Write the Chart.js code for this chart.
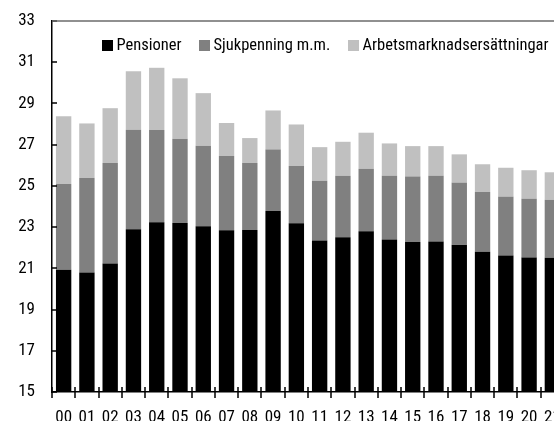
<!DOCTYPE html>
<html>
<head>
<meta charset="utf-8">
<script src="https://cdn.jsdelivr.net/npm/chart.js@4/dist/chart.umd.min.js"></script>
<style>
  html, body { margin: 0; padding: 0; background: #fff; overflow: hidden; }
  #wrap { width: 554px; height: 421px; overflow: hidden; }
</style>
</head>
<body>
<div id="wrap"><canvas id="chart" width="570" height="421"></canvas></div>
<script>
const years = ["00", "01", "02", "03", "04", "05", "06", "07", "08", "09", "10",
  "11", "12", "13", "14", "15", "16", "17", "18", "19", "20", "21"];

// stacked segments
const pensioner = [20.93, 20.8, 21.23, 22.9, 23.24, 23.2, 23.04, 22.85, 22.86, 23.78, 23.19,
  22.35, 22.51, 22.8, 22.4, 22.28, 22.3, 22.15, 21.8, 21.62, 21.52, 21.51];
const sjukpenning = [4.16, 4.6, 4.88, 4.82, 4.47, 4.09, 3.91, 3.6, 3.25, 2.99, 2.77,
  2.9, 2.98, 3.03, 3.09, 3.17, 3.19, 3.01, 2.9, 2.86, 2.86, 2.82];
const arbetsmarknad = [3.29, 2.63, 2.66, 2.84, 3.02, 2.93, 2.55, 1.6, 1.21, 1.89, 2.02,
  1.63, 1.65, 1.75, 1.57, 1.48, 1.44, 1.37, 1.35, 1.4, 1.38, 1.33];

const yTicks = [15, 17, 19, 21, 23, 25, 27, 29, 31, 33];

const font = "'Roboto Condensed', 'DejaVu Sans Condensed', sans-serif";

// inward ticks on y, crossing ticks on x, top frame line
const axisMarks = {
  id: "axisMarks",
  afterDraw(chart) {
    const { ctx, chartArea: a, scales: { x, y } } = chart;
    ctx.save();
    ctx.strokeStyle = "#000";
    ctx.lineWidth = 1.5;
    ctx.beginPath();
    yTicks.forEach(v => {
      const py = Math.round(y.getPixelForValue(v));
      ctx.moveTo(a.left, py);
      ctx.lineTo(a.left + 5, py);
    });
    for (let i = 0; i <= years.length; i++) {
      const px = Math.round(x.getPixelForValue(i - 0.5));
      ctx.moveTo(px, a.bottom - 5);
      ctx.lineTo(px, a.bottom + 6);
    }
    ctx.stroke();
    ctx.strokeStyle = "#6b6b6b";
    ctx.lineWidth = 1.7;
    ctx.beginPath();
    ctx.moveTo(a.left, a.top);
    ctx.lineTo(a.right, a.top);
    ctx.stroke();
    ctx.restore();
  }
};

// legend inside the plot, one row near the top
const legendStart = [102, 199, 348];
const insideLegend = {
  id: "insideLegend",
  afterDraw(chart) {
    const { ctx } = chart;
    ctx.save();
    ctx.font = "16.5px " + font;
    ctx.textBaseline = "middle";
    chart.data.datasets.forEach((ds, i) => {
      const bx = legendStart[i];
      ctx.fillStyle = ds.backgroundColor;
      ctx.fillRect(bx, 40, 11, 11);
      ctx.fillStyle = "#000";
      ctx.fillText(ds.label, bx + 14.5, 46);
    });
    ctx.restore();
  }
};

new Chart(document.getElementById("chart"), {
  type: "bar",
  data: {
    labels: years,
    datasets: [
      { label: "Pensioner", data: pensioner, backgroundColor: "#000000" },
      { label: "Sjukpenning m.m.", data: sjukpenning, backgroundColor: "#808080" },
      { label: "Arbetsmarknadsersättningar", data: arbetsmarknad, backgroundColor: "#c0c0c0" }
    ]
  },
  options: {
    responsive: false,
    animation: false,
    layout: { padding: { top: 21, right: 6, left: 0, bottom: 0 } },
    datasets: { bar: { categoryPercentage: 1, barPercentage: 0.66, borderWidth: 0 } },
    plugins: {
      legend: { display: false },
      tooltip: { enabled: false }
    },
    scales: {
      x: {
        stacked: true,
        grid: { display: true, drawOnChartArea: false, drawTicks: false },
        border: { display: true, color: "#000", width: 1.5 },
        ticks: {
          color: "#000", padding: 16, maxRotation: 0, minRotation: 0, autoSkip: false,
          font: { family: font, size: 17 }
        },
        afterFit(s) { s.height = 29; s.paddingLeft = 0; s.paddingRight = 0; }
      },
      y: {
        stacked: true,
        min: 15,
        max: 33,
        grid: { display: true, drawOnChartArea: false, drawTicks: false },
        border: { display: true, color: "#000", width: 1.5 },
        afterBuildTicks(s) { s.ticks = yTicks.map(v => ({ value: v })); },
        ticks: { color: "#000", padding: 17, font: { family: font, size: 17 } },
        afterFit(s) { s.width = 52; s.paddingTop = 0; s.paddingBottom = 0; }
      }
    }
  },
  plugins: [axisMarks, insideLegend]
});
</script>
</body>
</html>
